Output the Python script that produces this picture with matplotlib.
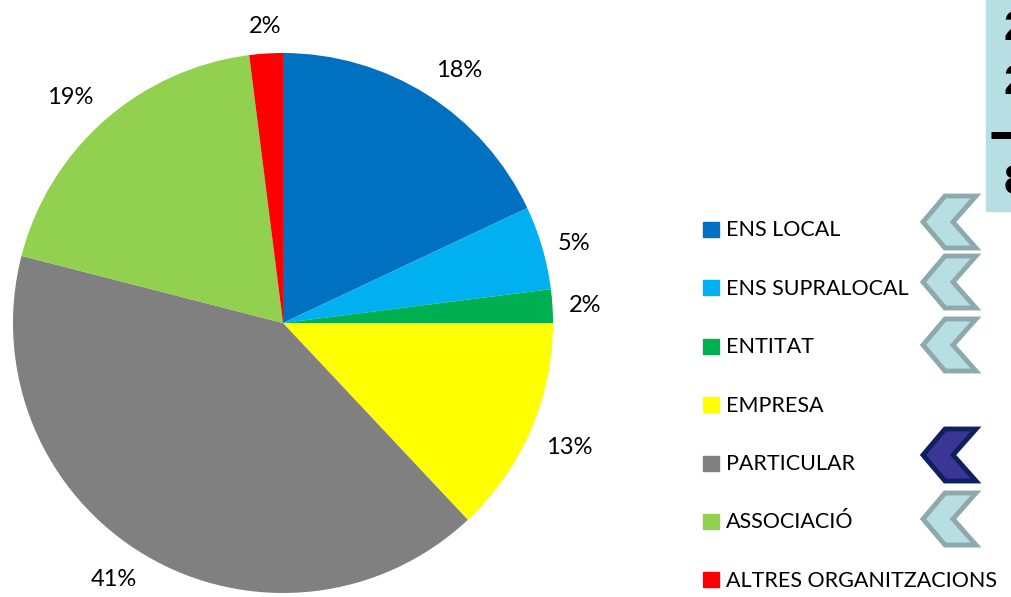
import numpy as np
import matplotlib
matplotlib.use("Agg")
import matplotlib.pyplot as plt
from matplotlib.patches import Rectangle, Polygon

plt.rcParams['font.family'] = ['Lato', 'DejaVu Sans']

# data
categories = ['ENS LOCAL', 'ENS SUPRALOCAL', 'ENTITAT', 'EMPRESA',
              'PARTICULAR', 'ASSOCIACIÓ', 'ALTRES ORGANITZACIONS']
values = [18, 5, 2, 13, 41, 19, 2]
colors = ['#0070C0', '#00B0F0', '#00B050', '#FFFF00',
          '#808080', '#92D050', '#FF0000']
# chevron next to each legend row: None = no chevron, 'light' / 'dark'
chevrons = ['light', 'light', 'light', None, 'dark', 'light', None]
box_texts = ['2', '2', '8']

W, H = 1012, 597
fig = plt.figure(figsize=(W / 100, H / 100), dpi=100)

# pie: centre (283, 323) px, radius 270 px
cx, cy, r = 283, 323, 270
ax = fig.add_axes([(cx - r) / W, (H - cy - r) / H, 2 * r / W, 2 * r / H])
wedges, _, autotexts = ax.pie(values, colors=colors, startangle=90,
                              counterclock=False, radius=1,
                              autopct=lambda p: '%.0f%%' % p,
                              wedgeprops=dict(linewidth=0),
                              textprops=dict(fontsize=17, color='black'))
ax.set_xlim(-1, 1)
ax.set_ylim(-1, 1)
ax.set_aspect('equal')

# labels outside the pie, aligned away from the centre
for w, t in zip(wedges, autotexts):
    ang = np.deg2rad((w.theta1 + w.theta2) / 2)
    c, s = np.cos(ang), np.sin(ang)
    t.set_position((1.06 * c, 1.06 * s))
    t.set_ha('center' if abs(c) < 0.3 else ('left' if c > 0 else 'right'))
    t.set_va('center' if abs(s) < 0.3 else ('bottom' if s > 0 else 'top'))
    t.set_clip_on(False)

# overlay in pixel coordinates for legend and decorations
ov = fig.add_axes([0, 0, 1, 1])
ov.set_xlim(0, W)
ov.set_ylim(H, 0)
ov.axis('off')
ov.patch.set_alpha(0)

# box at top right (cut by the figure edge)
ov.add_patch(Rectangle((986, 0), 40, 211, color='#B7DEE2', zorder=1))
for txt, ty in zip(box_texts, [29, 83, 183]):
    ov.text(1004, ty, txt, fontsize=31, fontweight='bold',
            family='Liberation Sans', ha='left', va='center', zorder=2)
ov.plot([991, 1020], [135, 135], color='black', linewidth=5,
        solid_capstyle='butt', zorder=2)

# legend
row0, step = 229.5, 58.4
chev_y = [222, 282, 345, None, 455, 519, None]
for i, (lab, col) in enumerate(zip(categories, colors)):
    y = row0 + i * step
    ov.add_patch(Rectangle((703, y - 7.5), 16, 15, color=col))
    ov.text(726, y + 1, lab, fontsize=15.5, ha='left', va='center')


def chevron(yc, style):
    pts = [(945, yc - 26), (976, yc - 26), (953, yc), (976, yc + 26),
           (945, yc + 26), (923, yc)]
    if style == 'dark':
        face, edge = '#3B3596', '#0F1F5F'
    else:
        face, edge = '#B7DEE2', '#8EA9AC'
    ov.add_patch(Polygon(pts, closed=True, facecolor=face, edgecolor=edge,
                         linewidth=3.5, joinstyle='miter'))


for st, yc in zip(chevrons, chev_y):
    if st is not None:
        chevron(yc, st)

fig.savefig('out.png', dpi=100)
